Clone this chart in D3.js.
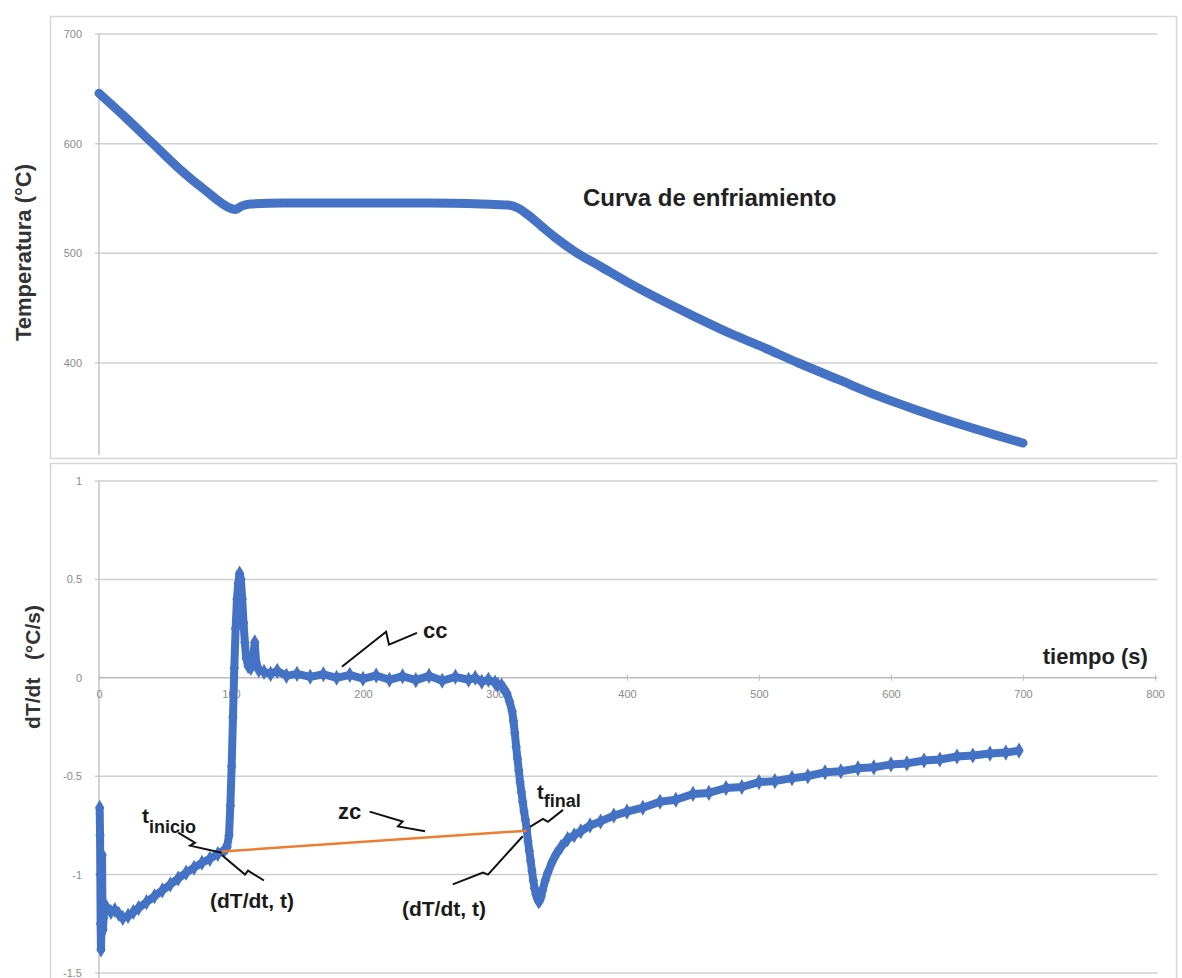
<!DOCTYPE html>
<html><head><meta charset="utf-8">
<script src="https://cdn.jsdelivr.net/npm/d3@7"></script>
<style>
body{margin:0;background:#fff}
svg{display:block}
text{font-family:"Liberation Sans",Arial,sans-serif}
</style>
</head><body>
<svg id="chart" width="1182" height="978"></svg>
<script>
// ---------- data ----------
const timeTicks = [0,100,200,300,400,500,600,700,800];
const tempTicks = [400,500,600,700];
const rateTicks = [-1.5,-1,-0.5,0,0.5,1];
const rateTickLabels = ["-1.5","-1","-0.5","0","0.5","1"];

// cooling curve (temperature, °C) vs time (s)
const tempTime   = [0,20,40,60,80,100,103,108,115,140,200,250,290,310,318,325,335,345,360,380,400,420,450,480,500,530,560,590,620,650,680,700];
const tempValues = [646,624,601,578,558,541,540,543,545,546,546,546,545,544,541,535,525,515,502,488,474,461,443,426,416,400,385,370,357,345,334,327];

// first derivative dT/dt (°C/s) vs time (s)
const rateTime = [0.5,0.8,1.0,1.2,1.5,1.8,2.0,2.3,2.6,3,3.5,4,6,9,12,15,18,22,26,30,36,42,48,54,60,66,72,78,84,90,95,97,98.5,99.5,100.5,101.5,102.5,103.5,104.5,105.5,106.5,107.5,108.5,109.5,110.5,111.5,113,115,117,118,119,121,125,130,135,142,150,160,170,180,190,200,210,220,230,240,250,260,270,280,285,290,295,300,302,305,307,309,311,313,314,315,316,317,318,319,320,321,322,323,324,325,326,327,328,329,330,331,332,333,334,335,336,338,340,343,346,350,355,360,365,372,380,390,400,412,425,437,450,462,475,487,500,512,525,537,550,562,575,587,600,612,625,637,650,662,675,687,697];
const rateValues = [-0.66,-0.80,-1.00,-1.25,-1.38,-1.30,-1.10,-0.90,-1.15,-1.28,-1.22,-1.15,-1.17,-1.19,-1.18,-1.20,-1.22,-1.21,-1.19,-1.17,-1.14,-1.11,-1.08,-1.05,-1.02,-0.99,-0.965,-0.94,-0.92,-0.895,-0.875,-0.86,-0.80,-0.65,-0.45,-0.20,0.05,0.25,0.40,0.48,0.53,0.50,0.40,0.28,0.18,0.10,0.06,0.05,0.12,0.18,0.08,0.04,0.03,0.02,0.035,0.01,0.02,0.005,0.018,0.0,0.015,-0.005,0.012,-0.01,0.008,-0.012,0.01,-0.015,0.005,-0.01,0.0,-0.02,-0.01,-0.025,-0.035,-0.04,-0.06,-0.08,-0.12,-0.17,-0.22,-0.28,-0.35,-0.41,-0.47,-0.53,-0.58,-0.63,-0.68,-0.72,-0.77,-0.83,-0.88,-0.93,-0.98,-1.03,-1.07,-1.10,-1.12,-1.135,-1.13,-1.11,-1.08,-1.03,-0.99,-0.94,-0.90,-0.86,-0.82,-0.80,-0.78,-0.75,-0.73,-0.70,-0.68,-0.66,-0.63,-0.62,-0.59,-0.585,-0.56,-0.555,-0.53,-0.525,-0.51,-0.50,-0.48,-0.475,-0.46,-0.455,-0.44,-0.435,-0.42,-0.415,-0.40,-0.395,-0.385,-0.38,-0.37];

// zc baseline between t_inicio and t_final
const zcTime   = [93, 324];
const zcValues = [-0.883, -0.777];

// annotation leaders (time, dT/dt) – "lightning" callouts
const leaders = [
  [[184,0.056],[217.5,0.234],[219.7,0.168],[240.9,0.228]],          // cc
  [[205,-0.68],[230,-0.73],[226.5,-0.755],[247,-0.78]],              // zc
  [[60,-0.787],[72.7,-0.838],[69,-0.853],[93,-0.889]],               // t inicio
  [[93,-0.90],[110.6,-1.0],[112.9,-0.98],[125,-1.03]],               // (dT/dt,t) 1
  [[268,-1.05],[290.9,-0.99],[294.7,-1.0],[321,-0.805]],             // (dT/dt,t) 2
  [[326.5,-0.757],[336.3,-0.717],[340.1,-0.732],[351.5,-0.671]]      // t final
];

// ---------- layout ----------
const svg = d3.select("#chart");
const BLUE = "#4472C4", GRID = "#cfcfcf", FRAME = "#d6d6d6", TICK = "#8a8a8a";

const x = d3.scaleLinear().domain([0,800]).range([99,1155]);
const yT = d3.scaleLinear().domain([400,700]).range([363,34]);
const yR = d3.scaleLinear().domain([-1.5,1]).range([973,481]);

// frames
svg.append("rect").attr("x",50.5).attr("y",16.5).attr("width",1126).attr("height",442)
  .attr("fill","none").attr("stroke",FRAME).attr("stroke-width",1.5);
svg.append("rect").attr("x",50.5).attr("y",463.5).attr("width",1126).attr("height",540)
  .attr("fill","none").attr("stroke",FRAME).attr("stroke-width",1.5);

// ================= TOP CHART =================
const gTop = svg.append("g");
gTop.selectAll("line.grid").data(tempTicks).join("line")
  .attr("x1",95).attr("x2",x(802)).attr("y1",d=>yT(d)).attr("y2",d=>yT(d))
  .attr("stroke",GRID).attr("stroke-width",1.5);
gTop.append("line").attr("x1",x(0)).attr("x2",x(0)).attr("y1",yT(700)).attr("y2",455)
  .attr("stroke","#c4c4c4").attr("stroke-width",1.5);
gTop.selectAll("text.tk").data(tempTicks).join("text")
  .attr("x",82).attr("y",d=>yT(d)+4).attr("text-anchor","end")
  .attr("font-size",11).attr("fill",TICK).text(d=>d);

gTop.append("defs").append("clipPath").attr("id","clipTop")
  .append("rect").attr("x",90).attr("y",20).attr("width",1080).attr("height",436);
const tempPts = tempTime.map((t,i)=>[t,tempValues[i]]);
gTop.append("path").datum(tempPts).attr("clip-path","url(#clipTop)")
  .attr("d",d3.line().x(d=>x(d[0])).y(d=>yT(d[1])).curve(d3.curveMonotoneX))
  .attr("fill","none").attr("stroke",BLUE).attr("stroke-width",9)
  .attr("stroke-linecap","round").attr("stroke-linejoin","round");

gTop.append("text").attr("transform",`translate(31,${(yT(700)+455)/2+8}) rotate(-90)`)
  .attr("text-anchor","middle").attr("font-size",22).attr("font-weight","bold").attr("fill","#333")
  .text("Temperatura (°C)");
gTop.append("text").attr("x",x(366.7)).attr("y",yT(543.2))
  .attr("font-size",24).attr("font-weight","bold").attr("fill","#222")
  .text("Curva de enfriamiento");

// ================= BOTTOM CHART =================
const gBot = svg.append("g");
gBot.selectAll("line.grid").data(rateTicks.filter(d=>d!==0)).join("line")
  .attr("x1",95).attr("x2",x(802)).attr("y1",d=>yR(d)).attr("y2",d=>yR(d))
  .attr("stroke",GRID).attr("stroke-width",1.5);
gBot.append("line").attr("x1",x(0)).attr("x2",x(0)).attr("y1",yR(1)).attr("y2",978)
  .attr("stroke","#c4c4c4").attr("stroke-width",1.5);
gBot.selectAll("text.tk").data(rateTicks).join("text")
  .attr("x",82).attr("y",d=>yR(d)+4).attr("text-anchor","end")
  .attr("font-size",11).attr("fill",TICK).text((d,i)=>rateTickLabels[i]);

// x axis at y = 0
const xAxis = d3.axisBottom(x).tickValues(timeTicks).tickSize(4).tickSizeOuter(0).tickFormat(d=>d);
const ax = gBot.append("g").attr("transform",`translate(0,${yR(0)})`).call(xAxis);
ax.select(".domain").attr("stroke","#bdbdbd").attr("stroke-width",1.5).attr("d",`M${x(0)},0H${x(802)}`);
ax.selectAll(".tick line").attr("stroke","#bdbdbd").attr("y1",-3).attr("y2",3);
ax.selectAll(".tick text").attr("fill",TICK).attr("font-size",11).attr("font-family","Liberation Sans, Arial, sans-serif").attr("dy","1.2em");

// dT/dt series
const ratePts = rateTime.map((t,i)=>[t,rateValues[i]]);
gBot.append("path").datum(ratePts)
  .attr("d",d3.line().x(d=>x(d[0])).y(d=>yR(d[1])))
  .attr("fill","none").attr("stroke",BLUE).attr("stroke-width",8).attr("stroke-linejoin","round");
gBot.selectAll("path.mk").data(ratePts).join("path")
  .attr("transform",d=>`translate(${x(d[0])},${yR(d[1])})`)
  .attr("d",d3.symbol(d3.symbolDiamond,75))
  .attr("fill",BLUE);

// zc line
gBot.append("path").datum(zcTime.map((t,i)=>[t,zcValues[i]]))
  .attr("d",d3.line().x(d=>x(d[0])).y(d=>yR(d[1])))
  .attr("stroke","#ED7D31").attr("stroke-width",2.5).attr("fill","none");

// leaders
gBot.selectAll("path.ld").data(leaders).join("path")
  .attr("d",d3.line().x(d=>x(d[0])).y(d=>yR(d[1])))
  .attr("fill","none").attr("stroke","#111").attr("stroke-width",2);

// annotation texts
const ann = gBot.append("g").attr("font-weight","bold").attr("fill","#1a1a1a");
ann.append("text").attr("x",x(245.5)).attr("y",yR(0.203)).attr("font-size",22).text("cc");
ann.append("text").attr("x",x(181)).attr("y",yR(-0.72)).attr("font-size",22).text("zc");
const ti = ann.append("text").attr("x",x(32.6)).attr("y",yR(-0.737)).attr("font-size",21);
ti.append("tspan").text("t");
ti.append("tspan").attr("dy",10).attr("font-size",18).text("inicio");
const tf = ann.append("text").attr("x",x(331.8)).attr("y",yR(-0.615)).attr("font-size",20);
tf.append("tspan").text("t");
tf.append("tspan").attr("dy",8).attr("font-size",18).text("final");
ann.append("text").attr("x",x(84.1)).attr("y",yR(-1.169)).attr("font-size",21).text("(dT/dt, t)");
ann.append("text").attr("x",x(229.5)).attr("y",yR(-1.209)).attr("font-size",21).text("(dT/dt, t)");
ann.append("text").attr("x",x(715)).attr("y",yR(0.071)).attr("font-size",22).attr("fill","#222").text("tiempo (s)");

// y label
gBot.append("text").attr("transform",`translate(40,667) rotate(-90)`)
  .attr("text-anchor","middle").attr("font-size",21).attr("font-weight","bold").attr("fill","#333")
  .style("white-space","pre").text("dT/dt   (°C/s)");
</script>
</body></html>
